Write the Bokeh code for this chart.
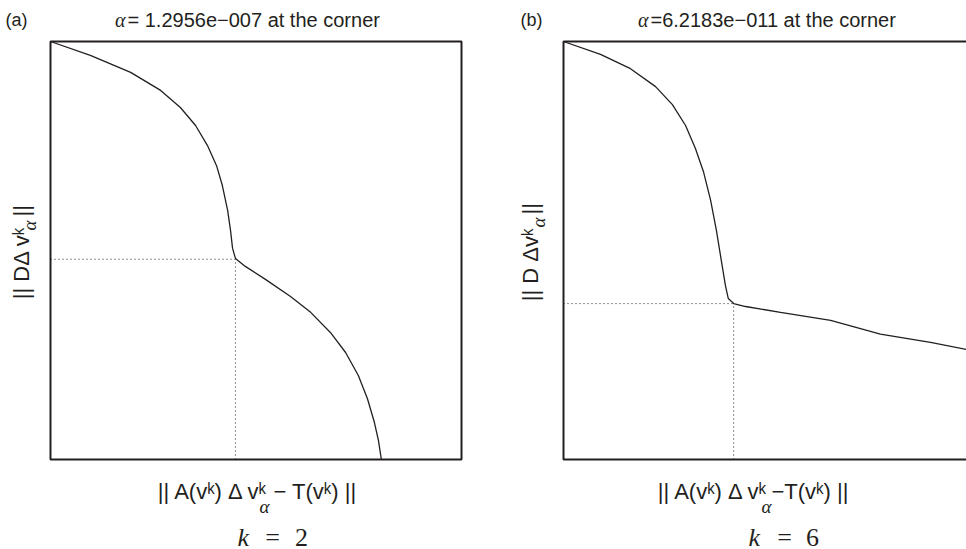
from bokeh.plotting import figure
from bokeh.models import Range1d, Label, BoxAnnotation
from bokeh.layouts import row
from bokeh.embed import file_html
from bokeh.resources import INLINE

# ---- data (normalized units) ----
a_x = [0.000, 0.097, 0.195, 0.268, 0.316, 0.353, 0.382, 0.404, 0.418, 0.431, 0.438, 0.443,
       0.450, 0.474, 0.523, 0.584, 0.633, 0.681, 0.718, 0.749, 0.771, 0.788, 0.798, 0.805]
a_y = [1.000, 0.967, 0.926, 0.883, 0.842, 0.799, 0.751, 0.703, 0.656, 0.596, 0.548, 0.505,
       0.481, 0.462, 0.431, 0.390, 0.352, 0.304, 0.256, 0.201, 0.146, 0.089, 0.045, 0.000]
a_corner = [0.450, 0.479]

b_x = [0.000, 0.090, 0.163, 0.224, 0.265, 0.297, 0.321, 0.341, 0.358, 0.372, 0.384, 0.394,
       0.401, 0.414, 0.443, 0.528, 0.650, 0.771, 0.893, 0.981, 1.000]
b_y = [1.000, 0.969, 0.935, 0.892, 0.849, 0.799, 0.744, 0.687, 0.620, 0.548, 0.476, 0.416,
       0.385, 0.373, 0.366, 0.352, 0.333, 0.300, 0.280, 0.263, 0.259]
b_corner = [0.414, 0.373]

a_title = "= 1.2956e\u2212007 at the corner"
b_title = "=6.2183e\u2212011 at the corner"

INK = "#231f20"
SANS = "Liberation Sans"
SERIF = "Liberation Serif"

H = 549
BOX_TOP = 41       # px of the panel box top
BOX_BOTTOM = 459   # px of the panel box bottom
BOX_W = 411        # px of one unit in x
BOX_H = BOX_BOTTOM - BOX_TOP
ROT = 1.5708


def make_fig(width, box_left):
    xr = Range1d(-box_left / BOX_W, (width - box_left) / BOX_W)
    yr = Range1d(-(H - BOX_BOTTOM) / BOX_H, 1 + BOX_TOP / BOX_H)
    p = figure(width=width, height=H, x_range=xr, y_range=yr,
               output_backend="svg", toolbar_location=None, title=None,
               x_axis_location=None, y_axis_location=None)
    p.min_border = 0
    p.min_border_left = p.min_border_right = p.min_border_top = p.min_border_bottom = 0
    p.grid.visible = False
    p.outline_line_color = None
    p.background_fill_color = "white"
    p.border_fill_color = "white"
    p.add_layout(BoxAnnotation(left=0, right=1, bottom=0, top=1, fill_color=None,
                               fill_alpha=0, line_color=INK, line_alpha=1.0, line_width=2))
    return p


def put(p, fx, px, py, text, size, align="left", baseline="alphabetic", angle=0,
        font=SANS, style="normal"):
    p.add_layout(Label(x=0, y=0, x_offset=px - fx, y_offset=BOX_BOTTOM - py, text=text,
                       text_font_size=f"{size}px", text_font=font, text_font_style=style,
                       text_align=align, text_baseline=baseline, angle=angle,
                       text_color=INK))


# ---- panel (a) ----
FA = 50
pa = make_fig(510, FA)
pa.line(a_x, a_y, line_color=INK, line_width=1.3)
pa.line([0, a_corner[0]], [a_corner[1], a_corner[1]], line_color=INK, line_width=1, line_dash="1 3")
pa.line([a_corner[0], a_corner[0]], [0, a_corner[1]], line_color=INK, line_width=1, line_dash="1 3")

put(pa, FA, 5, 19, "(a)", 18)
put(pa, FA, 125, 19, "\u03b1", 20, align="right", font=SERIF, style="italic")
put(pa, FA, 127, 19, a_title, 20)
# x label
put(pa, FA, 268, 491, "|| A(v\u1d4f) \u0394 v\u1d4f", 22, align="right")
put(pa, FA, 264, 506, "\u03b1", 19, align="center", font=SERIF, style="italic")
put(pa, FA, 273, 491, "\u2212 T(v\u1d4f) ||", 22)
# y label (rotated)
put(pa, FA, 21, 226, "|| D\u0394 v\u1d4f", 22, align="right", angle=ROT)
put(pa, FA, 29, 225, "\u03b1", 19, align="center", angle=ROT, font=SERIF, style="italic")
put(pa, FA, 21, 216, " ||", 22, align="left", angle=ROT)
# k = 2
put(pa, FA, 237, 537, "k", 26, font=SERIF, style="italic")
put(pa, FA, 272, 537, "=", 26, align="center", font=SERIF)
put(pa, FA, 301, 537, "2", 26, align="center", font=SERIF)

# ---- panel (b) ----
FB = 563
pb = make_fig(456, FB - 510)
pb.line(b_x, b_y, line_color=INK, line_width=1.3)
pb.line([0, b_corner[0]], [b_corner[1], b_corner[1]], line_color=INK, line_width=1, line_dash="1 3")
pb.line([b_corner[0], b_corner[0]], [0, b_corner[1]], line_color=INK, line_width=1, line_dash="1 3")

put(pb, FB, 520, 19, "(b)", 18)
put(pb, FB, 648, 19, "\u03b1", 20, align="right", font=SERIF, style="italic")
put(pb, FB, 650, 19, b_title, 20)
put(pb, FB, 768, 491, "|| A(v\u1d4f) \u0394 v\u1d4f", 22, align="right")
put(pb, FB, 766, 506, "\u03b1", 19, align="center", font=SERIF, style="italic")
put(pb, FB, 771, 491, "\u2212T(v\u1d4f) ||", 22)
put(pb, FB, 530, 228, "|| D \u0394v\u1d4f", 22, align="right", angle=ROT)
put(pb, FB, 538, 222, "\u03b1", 19, align="center", angle=ROT, font=SERIF, style="italic")
put(pb, FB, 530, 214, " ||", 22, align="left", angle=ROT)
put(pb, FB, 748, 537, "k", 26, font=SERIF, style="italic")
put(pb, FB, 784, 537, "=", 26, align="center", font=SERIF)
put(pb, FB, 812, 537, "6", 26, align="center", font=SERIF)

layout = row(pa, pb)
open("out.html", "w").write(file_html(layout, INLINE))
